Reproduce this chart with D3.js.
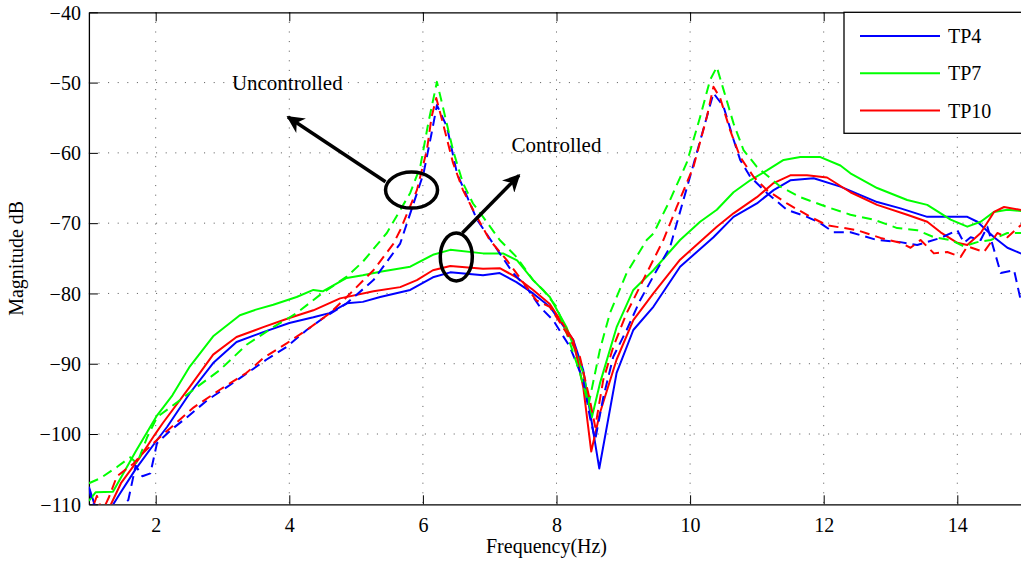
<!DOCTYPE html>
<html><head><meta charset="utf-8">
<script src="https://cdn.jsdelivr.net/npm/d3@7"></script>
<style>
html,body{margin:0;padding:0;background:#fff;}
svg{display:block;}
text{font-family:"Liberation Serif","Times New Roman",serif;fill:#000;}
</style></head>
<body><svg id="chart" width="1021" height="562"></svg>
<script>
// ---------- data ----------
const xTicks = [2,4,6,8,10,12,14];
const yTicks = [-110,-100,-90,-80,-70,-60,-50,-40];
const seriesNames = ["TP4","TP7","TP10"];

const tp4CtrlF  = [1.0,1.1,1.3,1.47,1.7,2.0,2.17,2.51,2.86,3.21,3.61,4.0,4.36,4.6,4.86,5.1,5.36,5.81,6.15,6.41,6.9,7.15,7.4,7.65,7.9,8.25,8.4,8.64,8.9,9.15,9.45,9.85,10.35,10.65,11.0,11.25,11.5,11.85,12.25,12.8,13.15,13.55,13.9,14.15,14.3,14.55,14.75,15.0];
const tp4CtrlDb = [-107.5,-110.5,-111,-108.4,-105,-101.1,-99.0,-94.2,-89.9,-86.9,-85.5,-84.2,-83.4,-82.8,-81.4,-81.2,-80.5,-79.5,-77.7,-77.0,-77.4,-77.1,-78.4,-80.0,-81.9,-86.6,-90.9,-104.9,-91.3,-85.2,-81.9,-76.2,-72.0,-69.1,-67.2,-65.3,-63.9,-63.6,-64.8,-67.0,-67.9,-69.1,-69.1,-69.1,-69.8,-72.0,-73.5,-74.5];

const tp7CtrlF  = [1.0,1.1,1.36,1.7,2.01,2.25,2.51,2.86,3.26,3.5,3.76,4.11,4.36,4.5,4.86,5.1,5.36,5.81,6.15,6.41,6.9,7.2,7.41,7.65,7.9,8.15,8.4,8.53,8.65,8.9,9.15,9.45,9.85,10.15,10.4,10.65,10.9,11.15,11.4,11.65,11.95,12.25,12.4,12.8,13.25,13.55,13.9,14.15,14.35,14.55,14.75,15.0];
const tp7CtrlDb = [-109.5,-108.3,-108.2,-102.5,-97.5,-94.5,-90.4,-86.1,-83.1,-82.3,-81.6,-80.5,-79.5,-79.7,-77.8,-77.4,-76.9,-76.2,-74.5,-73.8,-74.3,-74.3,-75.3,-78.1,-80.5,-84.8,-91.3,-97.6,-92.8,-84.8,-79.5,-76.7,-72.4,-69.8,-68.1,-65.6,-63.9,-62.5,-61.0,-60.6,-60.6,-61.8,-62.9,-65.0,-66.7,-67.4,-69.5,-70.5,-69.8,-68.4,-68.1,-68.3];

const tp10CtrlF  = [1.28,1.48,1.75,2.0,2.11,2.51,2.86,3.21,3.61,4.0,4.36,4.76,5.26,5.66,5.91,6.15,6.41,6.9,7.15,7.4,7.65,7.9,8.25,8.4,8.52,8.65,8.9,9.15,9.45,9.85,10.4,10.65,11.0,11.25,11.5,11.75,12.05,12.4,12.8,13.25,13.55,13.75,14.0,14.15,14.35,14.55,14.7,15.0];
const tp10CtrlDb = [-111,-107,-103.5,-99.9,-98.4,-93.3,-88.7,-86.2,-84.8,-83.5,-82.4,-80.7,-79.7,-79.1,-78.1,-76.7,-76.1,-76.5,-76.4,-77.7,-79.5,-81.5,-86.6,-93.3,-102.5,-97,-89.4,-83.8,-80.0,-75.2,-70.5,-68.6,-66.3,-64.3,-63.2,-63.2,-63.5,-65.6,-67.4,-68.8,-69.8,-71.3,-72.8,-73.1,-71.4,-68.4,-67.7,-68.2];

const tp4UncF  = [1.0,1.07,1.3,1.59,1.7,1.8,1.92,2.02,2.22,2.47,2.77,3.07,3.36,3.66,3.96,4.26,4.51,4.86,5.26,5.66,5.86,6.01,6.13,6.21,6.36,6.51,6.66,6.81,7.15,7.35,7.55,7.75,7.95,8.2,8.4,8.5,8.58,8.7,8.85,9.05,9.25,9.5,9.7,9.9,10.1,10.25,10.35,10.5,10.65,10.75,10.9,11.15,11.45,11.75,11.95,12.15,12.4,12.8,13.15,13.4,13.75,14.0,14.1,14.2,14.35,14.45,14.65,14.85,14.95,15.0];
const tp4UncDb = [-107.7,-110.5,-112,-109.4,-104.5,-106,-105.6,-101.3,-99.5,-97.6,-95.2,-93.3,-91.4,-89.4,-87.6,-85.2,-83.5,-81.4,-78.1,-72.9,-67.2,-62.9,-57.2,-53.2,-56.3,-62.9,-66.2,-69.5,-74.3,-77.1,-79.1,-81.9,-83.8,-87.6,-92.3,-97.6,-100.8,-94.8,-89.0,-85.2,-81.0,-76.7,-73.4,-66.7,-60.0,-54.9,-51.5,-53.4,-58.1,-61.0,-63.4,-65.7,-68.1,-69.1,-70.0,-71.3,-71.3,-72.4,-72.7,-73.1,-72.1,-71.0,-72.8,-72.0,-72.4,-70.5,-77.1,-76.7,-81.0,-82];

const tp7UncF  = [1.0,1.17,1.42,1.62,1.72,1.87,2.02,2.32,2.62,2.96,3.36,3.76,4.11,4.46,4.86,5.1,5.46,5.81,5.96,6.08,6.21,6.3,6.45,6.6,6.75,6.9,7.15,7.4,7.65,7.8,8.0,8.15,8.35,8.48,8.65,8.8,9.05,9.35,9.45,9.7,9.95,10.15,10.3,10.4,10.5,10.65,10.8,11.0,11.35,11.65,12.05,12.4,12.75,13.1,13.4,13.65,13.9,14.1,14.3,14.5,14.75,15.0];
const tp7UncDb = [-107,-106.3,-104.7,-103.3,-104.2,-100.5,-97.6,-95.5,-93.3,-90.9,-87.3,-84.8,-82.8,-80.2,-77.6,-75.5,-71.4,-65.7,-62.0,-55.8,-49.9,-53.5,-59.6,-64.3,-67.2,-69.1,-72.4,-74.8,-78.1,-79.5,-81.9,-85.6,-91.3,-95.8,-88.0,-82.8,-77.1,-72.4,-71.5,-66.7,-61.4,-54.9,-49.6,-47.8,-51.0,-55.8,-59.6,-62.0,-64.8,-66.3,-67.7,-68.8,-69.5,-70.7,-71.0,-72.0,-72.4,-73.3,-72.7,-72.4,-71.4,-71.4];

const tp10UncF  = [1.0,1.12,1.2,1.3,1.42,1.67,1.81,2.07,2.32,2.57,2.96,3.36,3.61,3.96,4.26,4.61,4.86,5.26,5.56,5.66,5.91,6.06,6.13,6.2,6.3,6.45,6.6,6.75,7.0,7.25,7.4,7.55,7.7,7.9,8.15,8.35,8.5,8.58,8.7,8.85,9.05,9.35,9.6,9.8,10.05,10.25,10.35,10.45,10.6,10.75,10.95,11.15,11.45,11.8,12.05,12.5,12.85,13.15,13.3,13.45,13.65,13.85,14.05,14.15,14.4,14.6,14.75,14.95,15.0];
const tp10UncDb = [-112,-108.8,-111,-109,-106,-104.2,-102.7,-100.4,-98.3,-96.2,-93.7,-91.3,-89.2,-87.1,-85.2,-82.8,-80.5,-76.7,-72.9,-71.0,-65.3,-59.6,-54.9,-52.2,-55.8,-61.4,-65.3,-68.1,-72.4,-75.2,-77.1,-79.1,-81.0,-81.9,-85.6,-89.0,-95.2,-99.0,-92.3,-87.6,-82.8,-77.1,-72.4,-67.7,-62.0,-54.9,-50.6,-52.2,-56.8,-60.6,-63.4,-65.3,-67.2,-69.1,-70.3,-71.0,-72.1,-72.8,-73.5,-72.4,-74.3,-74.1,-74.8,-73.3,-74.1,-71.4,-72.0,-70.3,-70.3];

// ---------- layout ----------
const pL = 88.9, pT = 12.3, pB = 504.3, pR = 1024.1;
const svg = d3.select("#chart");
const x = d3.scaleLinear().domain([1,15]).range([pL, pR]);
const y = d3.scaleLinear().domain([-110,-40]).range([pB, pT]);
const colors = {TP4:"#0000ff", TP7:"#00ff00", TP10:"#ff0000"};

const defs = svg.append("defs");
defs.append("clipPath").attr("id","plotclip")
  .append("rect").attr("x",pL).attr("y",pT).attr("width",pR-pL).attr("height",pB-pT);

// grid
const grid = svg.append("g");
grid.selectAll("line.gx").data(xTicks).join("line")
  .attr("x1",d=>x(d)).attr("x2",d=>x(d)).attr("y1",pT).attr("y2",pB)
  .attr("stroke","#555").attr("stroke-width",1).attr("stroke-dasharray","1,8.6");
grid.selectAll("line.gy").data(yTicks.filter(d=>d>-110 && d<-40)).join("line")
  .attr("x1",pL).attr("x2",pR).attr("y1",d=>y(d)).attr("y2",d=>y(d))
  .attr("stroke","#555").attr("stroke-width",1).attr("stroke-dasharray","1,8.6");

// axes
const tickLen = 9;
const axB = svg.append("g").attr("transform",`translate(0,${pB})`)
  .call(d3.axisBottom(x).tickValues(xTicks).tickSizeInner(-tickLen).tickSizeOuter(0).tickPadding(14).tickFormat(d3.format("d")));
const axT = svg.append("g").attr("transform",`translate(0,${pT})`)
  .call(d3.axisTop(x).tickValues(xTicks).tickSizeInner(-tickLen).tickSizeOuter(0).tickFormat(""));
const axL = svg.append("g").attr("transform",`translate(${pL},0)`)
  .call(d3.axisLeft(y).tickValues(yTicks).tickSizeInner(-tickLen).tickSizeOuter(0).tickPadding(8)
    .tickFormat(d=>d<0 ? "\u2212"+Math.abs(d) : d));
[axB,axT,axL].forEach(a=>{
  a.select(".domain").attr("stroke","#000").attr("stroke-width",1.3);
  a.selectAll(".tick line").attr("stroke","#000").attr("stroke-width",1);
  a.selectAll(".tick text").style("font-family","'Liberation Serif',serif").style("font-size","20px").attr("fill","#000");
});
axL.selectAll(".tick text").attr("dy","0.34em");

// series
const line = d3.line().x(d=>x(d[0])).y(d=>y(d[1]));
const zip = (f,v)=>f.map((d,i)=>[d,v[i]]);
const series = [
  {name:"TP4", f:tp4CtrlF, v:tp4CtrlDb, dash:null},
  {name:"TP7", f:tp7CtrlF, v:tp7CtrlDb, dash:null},
  {name:"TP10", f:tp10CtrlF, v:tp10CtrlDb, dash:null},
  {name:"TP4", f:tp4UncF, v:tp4UncDb, dash:"10,6"},
  {name:"TP7", f:tp7UncF, v:tp7UncDb, dash:"10,6"},
  {name:"TP10", f:tp10UncF, v:tp10UncDb, dash:"10,6"}
];
const plot = svg.append("g").attr("clip-path","url(#plotclip)");
series.forEach(s=>{
  plot.append("path").datum(zip(s.f,s.v)).attr("d",line)
    .attr("fill","none").attr("stroke",colors[s.name]).attr("stroke-width",2)
    .attr("stroke-linejoin","round")
    .attr("stroke-dasharray",s.dash);
});

// annotations
defs.append("marker").attr("id","arrow").attr("viewBox","0 0 10 10").attr("refX",9).attr("refY",5)
  .attr("markerWidth",5).attr("markerHeight",5).attr("orient","auto-start-reverse").attr("markerUnits","strokeWidth")
  .append("path").attr("d","M0,0 L10,5 L0,10 L3,5 Z").attr("fill","#000");
const ann = svg.append("g");
ann.append("ellipse").attr("cx",x(5.83)).attr("cy",y(-65.3)).attr("rx",26).attr("ry",18)
  .attr("fill","none").attr("stroke","#000").attr("stroke-width",3.5);
ann.append("line").attr("x1",x(5.44)).attr("y1",y(-64.1)).attr("x2",x(3.98)).attr("y2",y(-54.9))
  .attr("stroke","#000").attr("stroke-width",3.5).attr("marker-end","url(#arrow)");
ann.append("text").attr("x",x(3.97)).attr("y",y(-51.1)).attr("text-anchor","middle").style("font-size","21px").text("Uncontrolled");
ann.append("ellipse").attr("cx",x(6.5)).attr("cy",y(-74.8)).attr("rx",16).attr("ry",24)
  .attr("fill","none").attr("stroke","#000").attr("stroke-width",3.5);
ann.append("line").attr("x1",x(6.59)).attr("y1",y(-71.4)).attr("x2",x(7.44)).attr("y2",y(-63.2))
  .attr("stroke","#000").attr("stroke-width",3.5).attr("marker-end","url(#arrow)");
ann.append("text").attr("x",x(8.0)).attr("y",y(-59.9)).attr("text-anchor","middle").style("font-size","21px").text("Controlled");

// axis titles
svg.append("text").attr("x",(pL+pR)/2 - 10).attr("y",553).attr("text-anchor","middle").style("font-size","20px").text("Frequency(Hz)");
svg.append("text").attr("transform",`translate(23,${(pT+pB)/2}) rotate(-90)`).attr("text-anchor","middle").style("font-size","20px").text("Magnitude dB");

// legend
const lg = svg.append("g");
lg.append("rect").attr("x",844).attr("y",pT).attr("width",200).attr("height",121)
  .attr("fill","#fff").attr("stroke","#000").attr("stroke-width",1.3);
seriesNames.forEach((n,i)=>{
  const yy = 36 + i*37.3;
  lg.append("line").attr("x1",860).attr("x2",940).attr("y1",yy).attr("y2",yy)
    .attr("stroke",colors[n]).attr("stroke-width",2);
  lg.append("text").attr("x",948).attr("y",yy+7).style("font-size","20px").text(n);
});
</script></body></html>
